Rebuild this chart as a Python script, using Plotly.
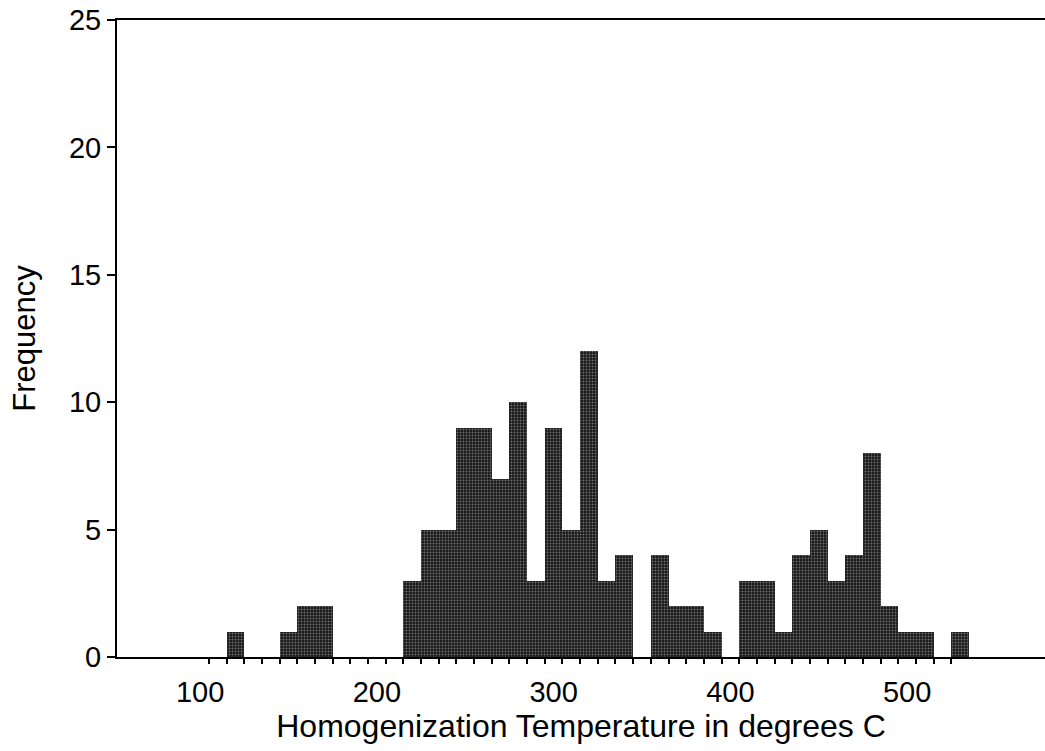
import plotly.graph_objects as go

# Histogram bins (10 degrees wide, centred on these temperatures)
bin_centers = [110, 120, 130, 140, 150, 160, 170, 180, 190, 200,
               210, 220, 230, 240, 250, 260, 270, 280, 290, 300,
               310, 320, 330, 340, 350, 360, 370, 380, 390, 400,
               410, 420, 430, 440, 450, 460, 470, 480, 490, 500,
               510, 520, 530]
frequency = [0, 1, 0, 0, 1, 2, 2, 0, 0, 0,
             0, 3, 5, 5, 9, 9, 7, 10, 3, 9,
             5, 12, 3, 4, 0, 4, 2, 2, 1, 0,
             3, 3, 1, 4, 5, 3, 4, 8, 2, 1,
             1, 0, 1]
bin_width = 10

# Axis labels
x_tick_values = [100, 200, 300, 400, 500]
y_tick_values = [0, 5, 10, 15, 20, 25]
minor_tick_positions = [105, 115, 125, 135, 145, 155, 165, 175, 185, 195,
                        205, 215, 225, 235, 245, 255, 265, 275, 285, 295,
                        305, 315, 325, 335, 345, 355, 365, 375, 385, 395,
                        405, 415, 425, 435, 445, 455, 465, 475, 485, 495,
                        505, 515, 525]
x_title = "Homogenization Temperature in degrees C"
y_title = "Frequency"

FONT = "Liberation Sans, Arial, sans-serif"
x_range = [53, 578]

fig = go.Figure()
fig.add_trace(go.Bar(
    x=bin_centers,
    y=frequency,
    width=bin_width,
    marker=dict(
        color="#1a1a1a",
        line=dict(width=0),
        pattern=dict(shape=".", fgcolor="#6e6e6e", bgcolor="#1a1a1a",
                     size=3, solidity=0.3, fillmode="replace"),
    ),
    showlegend=False,
    hoverinfo="x+y",
))
# invisible trace to anchor the secondary (minor tick) axis
fig.add_trace(go.Scatter(x=[x_range[0]], y=[0], xaxis="x2", mode="markers",
                         marker=dict(opacity=0), showlegend=False, hoverinfo="skip"))

fig.update_layout(
    width=1045, height=751,
    margin=dict(l=117, r=0, t=20, b=94),
    paper_bgcolor="white",
    plot_bgcolor="white",
    bargap=0,
    font=dict(family=FONT, color="black"),
    xaxis=dict(
        range=x_range,
        tickvals=x_tick_values,
        ticktext=[str(v) for v in x_tick_values],
        ticks="",
        ticklabelstandoff=8,
        tickfont=dict(size=29, family=FONT, color="black"),
        showgrid=False, zeroline=False,
        showline=True, linecolor="black", linewidth=2, mirror=True,
        title=dict(text=x_title, font=dict(size=32, family=FONT, color="black"), standoff=4),
        automargin=False,
    ),
    xaxis2=dict(
        range=x_range,
        overlaying="x",
        anchor="y",
        side="bottom",
        tickvals=minor_tick_positions,
        showticklabels=False,
        ticks="outside", ticklen=6, tickwidth=1.5, tickcolor="black",
        showgrid=False, zeroline=False, showline=False,
    ),
    yaxis=dict(
        range=[0, 25],
        tickvals=y_tick_values,
        ticks="outside", ticklen=8, tickwidth=2, tickcolor="black",
        tickfont=dict(size=29, family=FONT, color="black"),
        showgrid=False, zeroline=False,
        showline=True, linecolor="black", linewidth=2,
        title=dict(text=y_title, font=dict(size=31, family=FONT, color="black"), standoff=24),
        automargin=False,
    ),
)

fig.write_html("out.html")
